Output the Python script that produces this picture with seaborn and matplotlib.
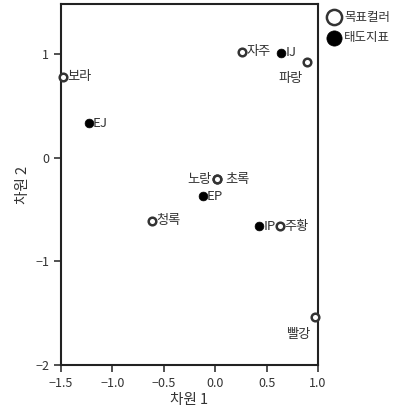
import pandas as pd
import numpy as np
import matplotlib.pyplot as plt
import seaborn as sns

names = ['보라', '자주', '파랑', '노랑', '초록', '청록', '주황', '빨강', 'IJ', 'EJ', 'EP', 'IP']
dim1 = [-1.48, 0.26, 0.89, 0.02, 0.02, -0.61, 0.63, 0.97, 0.64, -1.23, -0.12, 0.43]
dim2 = [0.78, 1.02, 0.92, -0.21, -0.21, -0.61, -0.66, -1.54, 1.01, 0.33, -0.37, -0.66]
group = ['목표컬러'] * 8 + ['태도지표'] * 4
# label placement: (dx, dy) in points, horizontal alignment
place = {'파랑': (-3, -12, 'right'), '빨강': (-3, -12, 'right'),
         '노랑': (-4, 0, 'right'), '초록': (6, 0, 'left')}

df = pd.DataFrame({'name': names, 'dim1': dim1, 'dim2': dim2, 'group': group})

sns.set_style('ticks')
plt.rcParams['font.family'] = ['Noto Sans CJK KR', 'DejaVu Sans']
plt.rcParams['axes.unicode_minus'] = False

fig = plt.figure(figsize=(4.0, 4.15), dpi=100)
ax = fig.add_axes([0.1525, 0.12, 0.6425, 0.87])

tgt = df[df.group == '목표컬러']
att = df[df.group == '태도지표']
sns.scatterplot(data=tgt, x='dim1', y='dim2', ax=ax, marker='o', s=30,
                facecolor='white', edgecolor='#333333', linewidth=1.8,
                label='목표컬러', clip_on=False, zorder=3)
sns.scatterplot(data=att, x='dim1', y='dim2', ax=ax, marker='o', s=40,
                color='black', edgecolor='black', linewidth=0.5,
                label='태도지표', clip_on=False, zorder=3)

for _, r in df.iterrows():
    dx, dy, ha = place.get(r['name'], (3, 0, 'left'))
    ax.annotate(r['name'], (r['dim1'], r['dim2']), xytext=(dx, dy),
                textcoords='offset points', ha=ha, va='center',
                fontsize=9.5, color='#333333')

ax.set_xlim(-1.5, 1.0)
ax.set_ylim(-2, 1.48)
ax.set_xticks([-1.5, -1.0, -0.5, 0.0, 0.5, 1.0])
ax.set_xticklabels(['−1.5', '−1.0', '−0.5', '0.0', '0.5', '1.0'])
ax.set_yticks([-2, -1, 0, 1])
ax.set_yticklabels(['−2', '−1', '0', '1'])
ax.tick_params(labelsize=9, colors='#333333', length=5, width=1.2)
ax.set_xlabel('차원 1', fontsize=10.5, color='#333333', labelpad=2)
ax.set_ylabel('차원 2', fontsize=10.5, color='#333333', labelpad=4)
for sp in ax.spines.values():
    sp.set_visible(True)
    sp.set_linewidth(1.5)
    sp.set_color('#222222')

leg = ax.legend(loc='upper left', bbox_to_anchor=(1.0, 1.01), frameon=False,
                fontsize=9, handletextpad=0.3, borderaxespad=0.4,
                labelspacing=0.6, handlelength=1.0)
for h in leg.legend_handles:
    h.set_sizes([120])
for t in leg.get_texts():
    t.set_color('#333333')

fig.savefig('out.png', dpi=100)
